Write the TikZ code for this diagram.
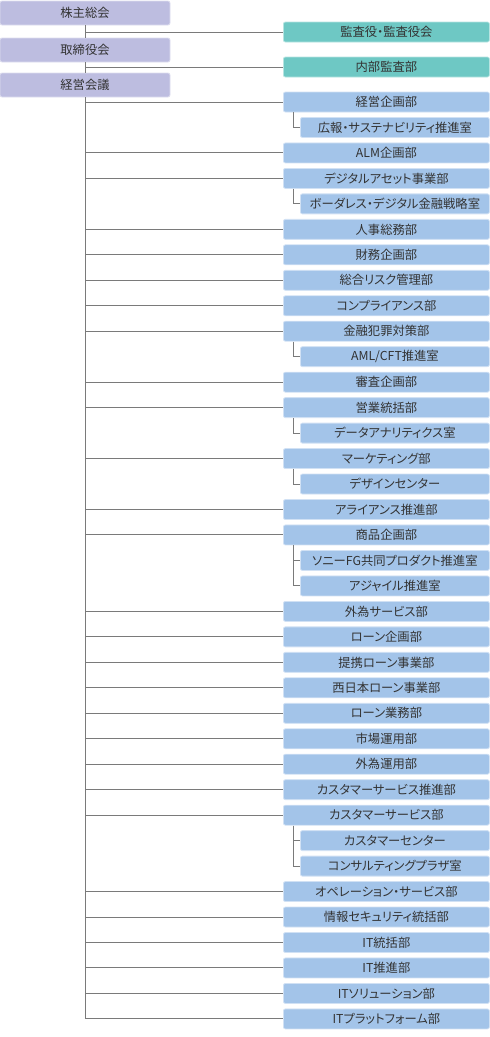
\documentclass[tikz,border=0pt]{standalone}
\usepackage{fontspec}
\setmainfont{Noto Sans CJK JP}[RawFeature={+palt}]
\usetikzlibrary{positioning}
\definecolor{boardfill}{HTML}{BDBDE0}
\definecolor{auditfill}{HTML}{6EC8C4}
\definecolor{deptfill}{HTML}{A3C4E9}
\definecolor{linkgray}{HTML}{7A7A7A}
\definecolor{textgray}{HTML}{333333}
\newcommand{\rowtop}{102}
\newcommand{\rowstep}{25.47}

\tikzset{
  unit/.style={rectangle, rounded corners=2pt, inner sep=0pt, line width=0.8pt,
    text=textgray, font=\fontsize{12.3}{14}\selectfont},
  boardbox/.style={unit, fill=boardfill, draw=boardfill!50!white,
    minimum width=170pt, minimum height=24pt},
  auditbox/.style={unit, anchor=west, fill=auditfill, draw=auditfill!50!white,
    minimum width=206pt, minimum height=20pt},
  deptbox/.style={unit, anchor=west, fill=deptfill, draw=deptfill!50!white,
    minimum width=206pt, minimum height=20pt},
  subbox/.style={deptbox, minimum width=189pt},
  link/.style={draw=linkgray, line width=1pt}
}

\begin{document}
\begin{tikzpicture}[x=1pt, y=-1pt]
  \useasboundingbox (0,0) rectangle (490,1037);
  % top bodies
  \node[boardbox] (kabu) at (85,13) {株主総会};
  \node[boardbox] (tori) at (85,50) {取締役会};
  \node[boardbox] (keiei) at (85,85) {経営会議};
  \node[auditbox] (kansa) at (283,32) {監査役・監査役会};
  \node[auditbox] (naibu) at (283,67) {内部監査部};
  \draw[link] (kabu) -- (tori);
  \draw[link] (tori) -- (keiei);
  \draw[link] (kabu.south) |- (kansa.west);
  \draw[link] (tori.south) |- (naibu.west);
  % departments
  \foreach \k/\txt in {0/経営企画部, 2/ALM企画部, 3/デジタルアセット事業部,
      5/人事総務部, 6/財務企画部, 7/総合リスク管理部, 8/コンプライアンス部,
      9/金融犯罪対策部, 11/審査企画部, 12/営業統括部, 14/マーケティング部,
      16/アライアンス推進部, 17/商品企画部, 20/外為サービス部, 21/ローン企画部,
      22/提携ローン事業部, 23/西日本ローン事業部, 24/ローン業務部, 25/市場運用部,
      26/外為運用部, 27/カスタマーサービス推進部, 28/カスタマーサービス部,
      31/オペレーション・サービス部, 32/情報セキュリティ統括部, 33/IT統括部,
      34/IT推進部, 35/ITソリューション部, 36/ITプラットフォーム部} {
    \node[deptbox] (d\k) at (283, {\rowtop+\rowstep*\k}) {\txt};
    \draw[link] (keiei.south) |- (d\k.west);
  }
  % offices under a department
  \foreach \k/\p/\txt in {1/0/広報・サステナビリティ推進室, 4/3/ボーダレス・デジタル金融戦略室,
      10/9/{AML/CFT推進室}, 13/12/データアナリティクス室, 15/14/デザインセンター,
      18/17/ソニーFG共同プロダクト推進室, 19/17/アジャイル推進室,
      29/28/カスタマーセンター, 30/28/コンサルティングプラザ室} {
    \node[subbox] (d\k) at (300, {\rowtop+\rowstep*\k}) {\txt};
    \draw[link] ([xshift=10pt]d\p.south west) |- (d\k.west);
  }
\end{tikzpicture}
\end{document}
